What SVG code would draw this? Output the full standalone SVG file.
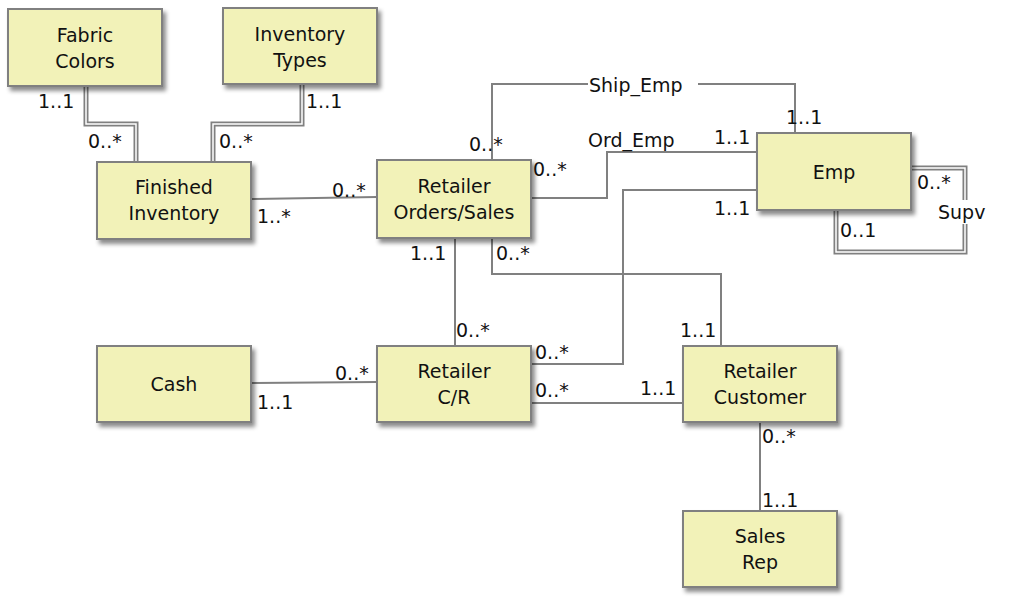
<svg xmlns="http://www.w3.org/2000/svg" width="1024" height="613" viewBox="0 0 1024 613">
<defs>
<filter id="sh" x="-10%" y="-10%" width="130%" height="140%"><feDropShadow dx="3" dy="4" stdDeviation="2" flood-color="#000" flood-opacity="0.45"/></filter>
</defs>
<style>
.n rect{fill:#f2f2b8;stroke:#808080;stroke-width:2;filter:url(#sh)}
text{font-family:"DejaVu Sans",Verdana,sans-serif;font-size:19px;fill:#111}
.n text{text-anchor:middle}
.c{fill:none;stroke:#808080;stroke-width:2}
.d{fill:none;stroke:#808080;stroke-width:5}
.di{fill:none;stroke:#fff;stroke-width:1.5}
</style>
<rect width="1024" height="613" fill="#fff"/>
<g id="connectors">
<path class="d" d="M86,86V124H136V162"/><path class="di" d="M86,86V124H136V162"/>
<path class="d" d="M302,84V124H213V162"/><path class="di" d="M302,84V124H213V162"/>
<path class="d" d="M911,168H965V252H836V210"/><path class="di" d="M911,168H965V252H836V210"/>
<path class="c" d="M251,199L377,197"/>
<path class="c" d="M492,160V84H795V133"/>
<path class="c" d="M531,198H607V152H757"/>
<path class="c" d="M757,190H623V364H531"/>
<path class="c" d="M492,238V274H721V346"/>
<path class="c" d="M455,238V346"/>
<path class="c" d="M251,383L377,382"/>
<path class="c" d="M531,403H683"/>
<path class="c" d="M760,422V511"/>
<rect x="588" y="72" width="110" height="24" fill="#fff"/>
<text x="589" y="92">Ship_Emp</text>
<text x="588" y="147">Ord_Emp</text>
<rect x="936" y="200" width="58" height="24" fill="#fff"/>
<text x="938" y="219">Supv</text>
<text x="38" y="108">1..1</text>
<text x="88" y="148">0..*</text>
<text x="306" y="108">1..1</text>
<text x="219" y="148">0..*</text>
<text x="332" y="197">0..*</text>
<text x="257" y="223">1..*</text>
<text x="469" y="151">0..*</text>
<text x="533" y="176">0..*</text>
<text x="786" y="124">1..1</text>
<text x="714" y="144">1..1</text>
<text x="714" y="215">1..1</text>
<text x="917" y="189">0..*</text>
<text x="840" y="237">0..1</text>
<text x="410" y="260">1..1</text>
<text x="496" y="260">0..*</text>
<text x="456" y="337">0..*</text>
<text x="680" y="337">1..1</text>
<text x="535" y="359">0..*</text>
<text x="535" y="397">0..*</text>
<text x="640" y="395">1..1</text>
<text x="335" y="380">0..*</text>
<text x="257" y="409">1..1</text>
<text x="762" y="443">0..*</text>
<text x="762" y="507">1..1</text>
</g>
<g id="fabric" class="n"><rect x="8" y="9" width="154" height="77"/><text x="85" y="42">Fabric</text><text x="85" y="68">Colors</text></g>
<g id="invtypes" class="n"><rect x="223" y="8" width="154" height="76"/><text x="300" y="41">Inventory</text><text x="300" y="67">Types</text></g>
<g id="finished" class="n"><rect x="97" y="162" width="154" height="77"/><text x="174" y="194">Finished</text><text x="174" y="220">Inventory</text></g>
<g id="orders" class="n"><rect x="377" y="160" width="154" height="78"/><text x="454" y="193">Retailer</text><text x="454" y="219">Orders/Sales</text></g>
<g id="emp" class="n"><rect x="757" y="133" width="154" height="77"/><text x="834" y="179">Emp</text></g>
<g id="cash" class="n"><rect x="97" y="346" width="154" height="76"/><text x="174" y="391">Cash</text></g>
<g id="cr" class="n"><rect x="377" y="346" width="154" height="76"/><text x="454" y="378">Retailer</text><text x="454" y="404">C/R</text></g>
<g id="customer" class="n"><rect x="683" y="346" width="154" height="76"/><text x="760" y="378">Retailer</text><text x="760" y="404">Customer</text></g>
<g id="salesrep" class="n"><rect x="683" y="511" width="154" height="76"/><text x="760" y="543">Sales</text><text x="760" y="569">Rep</text></g>
</svg>
